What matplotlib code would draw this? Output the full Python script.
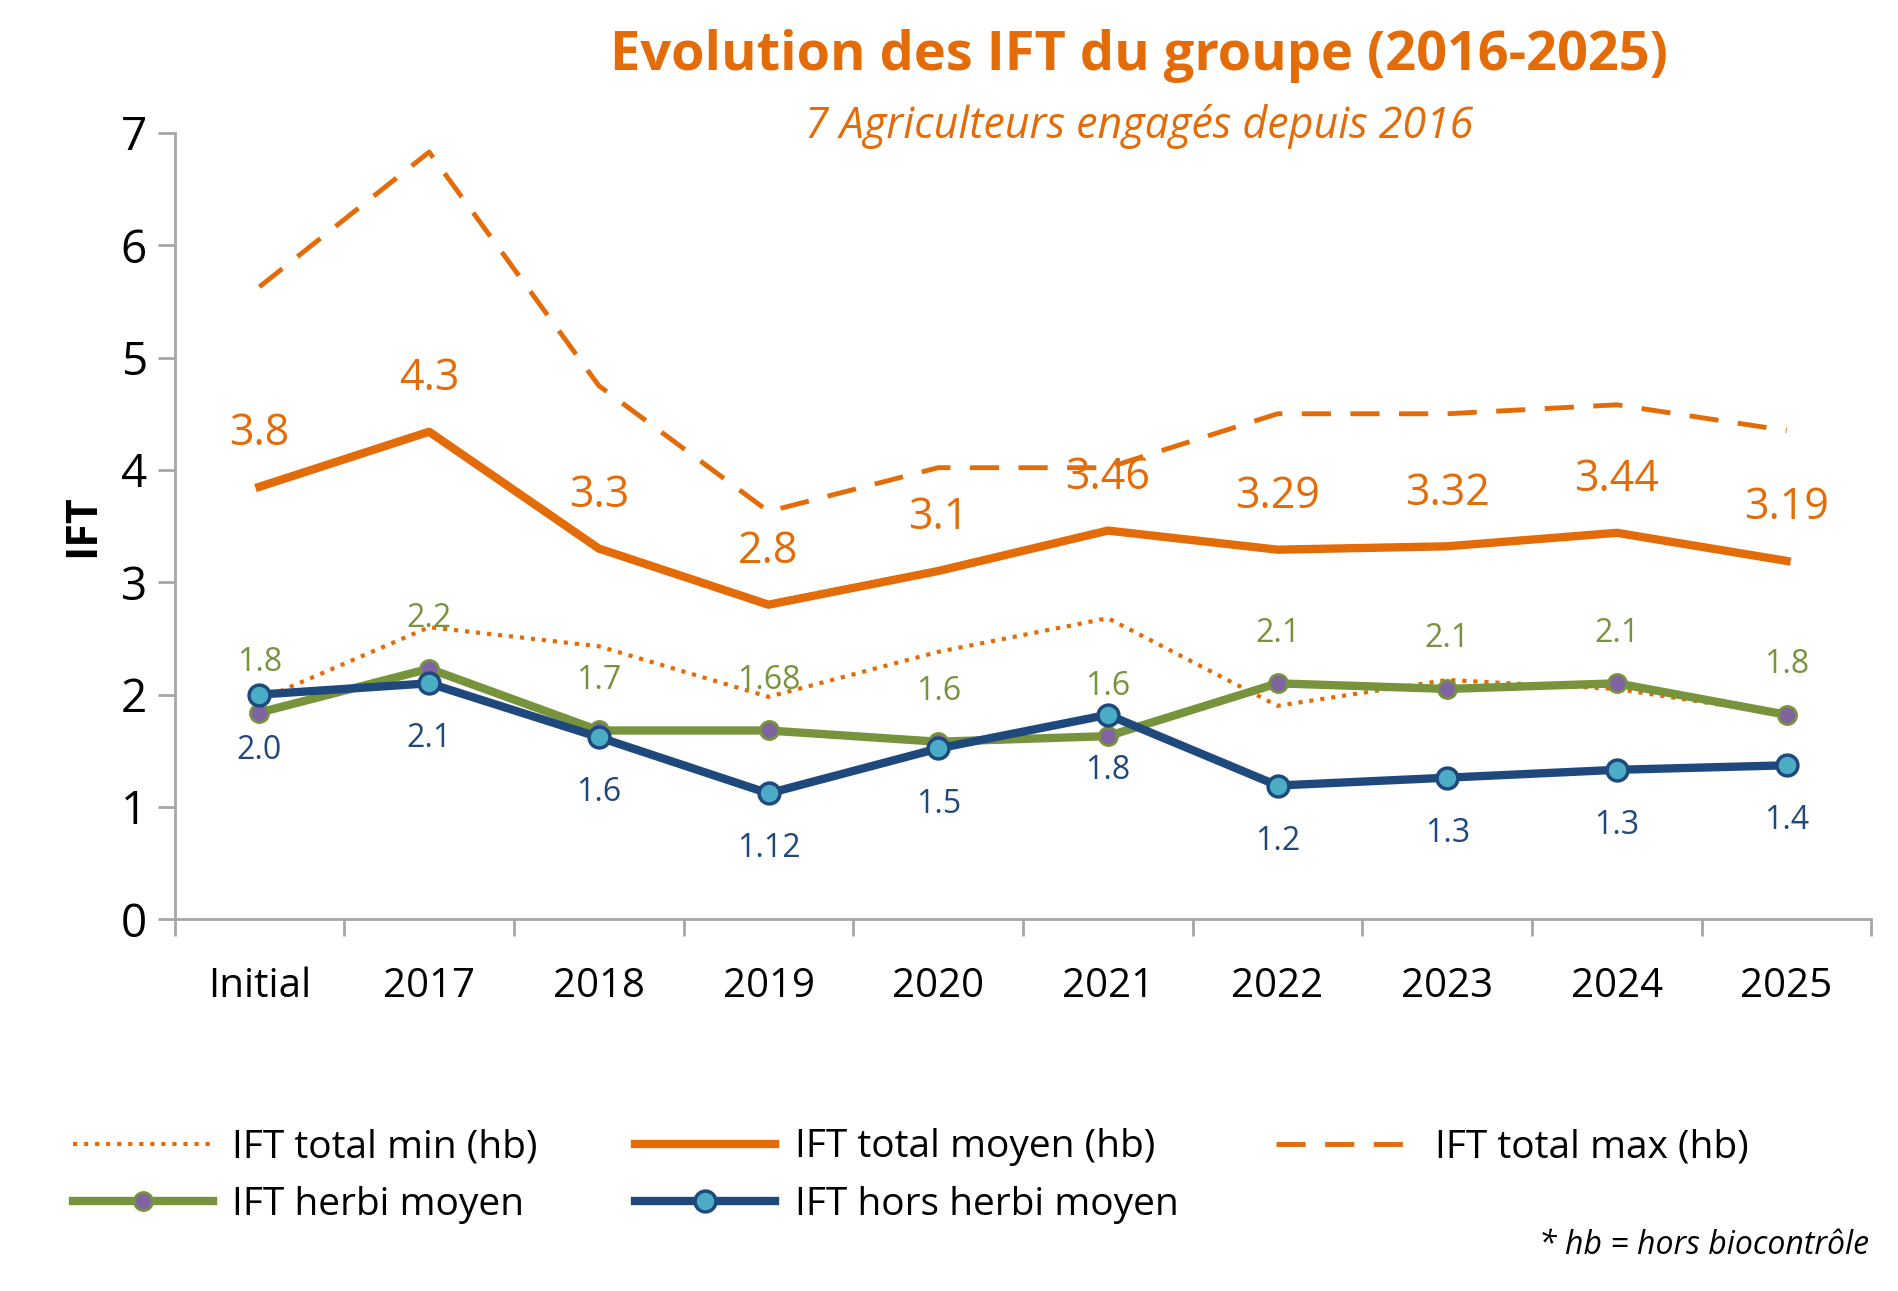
import matplotlib
matplotlib.use('Agg')
import matplotlib.pyplot as plt

plt.rcParams['font.family'] = ['Open Sans', 'DejaVu Sans']

years = ['Initial', '2017', '2018', '2019', '2020', '2021', '2022', '2023', '2024', '2025']
ift_min = [1.95, 2.6, 2.43, 1.98, 2.38, 2.68, 1.9, 2.13, 2.05, 1.82]
ift_moyen = [3.85, 4.34, 3.3, 2.8, 3.1, 3.46, 3.29, 3.32, 3.44, 3.19]
ift_max = [5.63, 6.83, 4.75, 3.63, 4.02, 4.02, 4.5, 4.5, 4.58, 4.35]
herbi = [1.84, 2.23, 1.68, 1.68, 1.58, 1.63, 2.1, 2.05, 2.1, 1.82]
hors_herbi = [2.0, 2.1, 1.62, 1.12, 1.52, 1.82, 1.19, 1.26, 1.33, 1.37]

moyen_labels = ['3.8', '4.3', '3.3', '2.8', '3.1', '3.46', '3.29', '3.32', '3.44', '3.19']
herbi_labels = ['1.8', '2.2', '1.7', '1.68', '1.6', '1.6', '2.1', '2.1', '2.1', '1.8']
hors_labels = ['2.0', '2.1', '1.6', '1.12', '1.5', '1.8', '1.2', '1.3', '1.3', '1.4']

orange = '#E36C09'
green = '#77933C'
blue = '#1F497D'

fig = plt.figure(figsize=(18.98, 12.91), dpi=100)
ax = fig.add_axes([0.092, 0.288, 0.894, 0.609])
x = list(range(len(years)))

l1, = ax.plot(x, ift_min, ':', color=orange, lw=3, label='IFT total min (hb)')
l2, = ax.plot(x, ift_moyen, '-', color=orange, lw=6, label='IFT total moyen (hb)')
l3, = ax.plot(x, ift_max, '--', color=orange, lw=3.5, dashes=(6, 4), label='IFT total max (hb)')
l4, = ax.plot(x, herbi, '-', color=green, lw=6, marker='o', ms=13, mfc='#8064A2',
              mec=green, mew=2, label='IFT herbi moyen')
l5, = ax.plot(x, hors_herbi, '-', color=blue, lw=6, marker='o', ms=15, mfc='#4BACC6',
              mec=blue, mew=2.5, label='IFT hors herbi moyen')

for i in x:
    ax.annotate(moyen_labels[i], (i, ift_moyen[i]), xytext=(0, 38), textcoords='offset points',
                ha='center', va='center', color=orange, fontsize=31)
    ax.annotate(herbi_labels[i], (i, herbi[i]), xytext=(0, 36), textcoords='offset points',
                ha='center', va='center', color=green, fontsize=23)
    ax.annotate(hors_labels[i], (i, hors_herbi[i]), xytext=(0, -40), textcoords='offset points',
                ha='center', va='center', color=blue, fontsize=23)

ax.set_xlim(-0.5, 9.5)
ax.set_ylim(0, 7)
ax.set_xticks([i - 0.5 for i in range(11)])
ax.set_xticklabels([])
ax.set_xticks(x, minor=True)
ax.set_xticklabels(years, minor=True, fontsize=29)
ax.tick_params(axis='x', which='major', length=12, width=2, color='#A6A6A6', direction='out')
ax.tick_params(axis='x', which='minor', length=0, pad=34)
ax.tick_params(axis='y', length=12, width=2, color='#A6A6A6', labelsize=33, pad=8)
ax.set_yticks(range(8))
for s in ['top', 'right']:
    ax.spines[s].set_visible(False)
for s in ['left', 'bottom']:
    ax.spines[s].set_color('#A6A6A6')
    ax.spines[s].set_linewidth(2)
ax.set_ylabel('IFT', fontsize=31, fontweight='bold', labelpad=12)

fig.text(0.6, 0.957, 'Evolution des IFT du groupe (2016-2025)', ha='center', va='center',
         color=orange, fontsize=39, fontweight='bold')
fig.text(0.6, 0.902, '7 Agriculteurs engagés depuis 2016', ha='center', va='center',
         color=orange, fontsize=31, style='italic')

fig.legend([l1, l4, l2, l5, l3], [h.get_label() for h in [l1, l4, l2, l5, l3]],
           loc='lower left', bbox_to_anchor=(0.02, 0.025), ncol=3, frameon=False,
           fontsize=28, handlelength=3.6, handletextpad=0.5, columnspacing=2.5,
           labelspacing=0.5)
fig.text(0.985, 0.035, '* hb = hors biocontrôle', ha='right', va='center',
         fontsize=23, style='italic')

fig.savefig('out.png', dpi=100)
